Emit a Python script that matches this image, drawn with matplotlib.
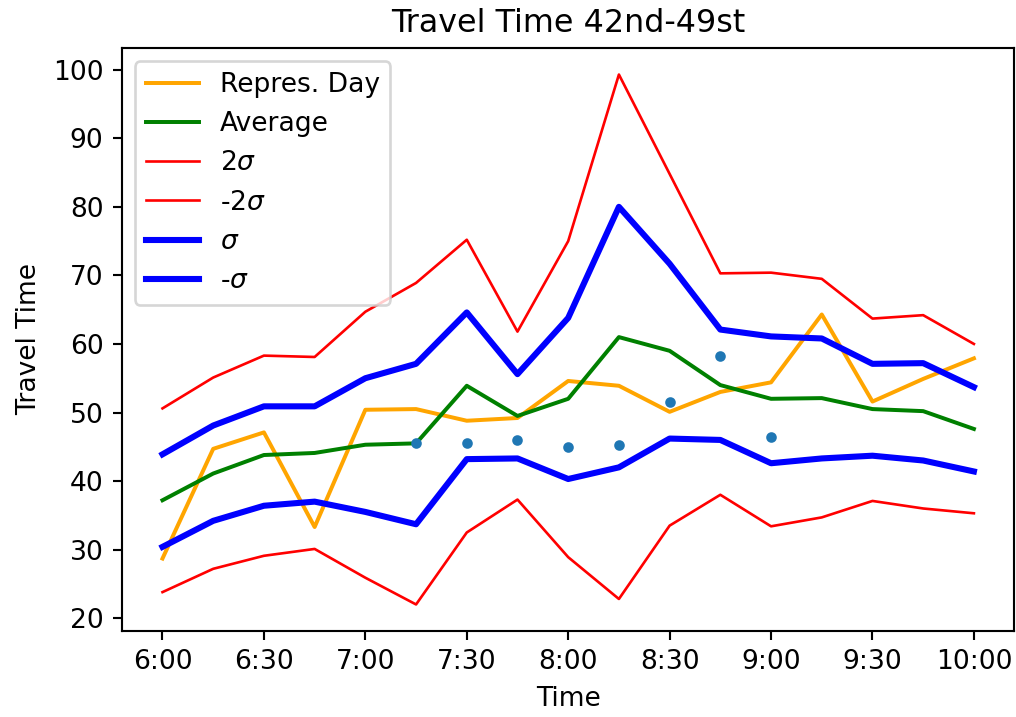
import numpy as np
import matplotlib.pyplot as plt

# 15-minute time slots from 6:00 to 10:00
times = ['6:00', '6:15', '6:30', '6:45', '7:00', '7:15', '7:30', '7:45', '8:00',
         '8:15', '8:30', '8:45', '9:00', '9:15', '9:30', '9:45', '10:00']

# travel times per slot
repres_day = [28.7, 44.7, 47.1, 33.3, 50.4, 50.5, 48.8, 49.2, 54.6,
              53.9, 50.1, 53.0, 54.4, 64.3, 51.6, 54.9, 57.9]
average = [37.2, 41.1, 43.8, 44.1, 45.3, 45.5, 53.9, 49.5, 52.0,
           61.0, 59.0, 54.0, 52.0, 52.1, 50.5, 50.2, 47.6]
plus_2sigma = [50.6, 55.1, 58.3, 58.1, 64.7, 68.9, 75.2, 61.8, 75.0,
               99.3, 84.8, 70.3, 70.4, 69.5, 63.7, 64.2, 60.0]
minus_2sigma = [23.8, 27.2, 29.1, 30.1, 25.9, 22.0, 32.5, 37.3, 28.9,
                22.8, 33.5, 38.0, 33.4, 34.7, 37.1, 36.0, 35.3]
plus_sigma = [43.9, 48.1, 50.9, 50.9, 55.0, 57.1, 64.6, 55.6, 63.8,
              80.0, 71.7, 62.1, 61.1, 60.8, 57.1, 57.2, 53.7]
minus_sigma = [30.4, 34.2, 36.4, 37.0, 35.5, 33.7, 43.2, 43.3, 40.3,
               42.0, 46.2, 46.0, 42.6, 43.3, 43.7, 43.0, 41.4]

# single-day observations
obs_times = ['7:15', '7:30', '7:45', '8:00', '8:15', '8:30', '8:45', '9:00']
obs_values = [45.6, 45.6, 46.0, 44.9, 45.2, 51.6, 58.2, 46.5]

x = np.arange(len(times))
obs_x = [times.index(t) for t in obs_times]

dpi = 190.5
fig = plt.figure(figsize=(1016 / dpi, 717 / dpi), dpi=dpi)
ax = fig.add_axes([0.120, 0.120, 0.8785, 0.813])

ax.plot(x, repres_day, color='orange', label='Repres. Day')
ax.plot(x, average, color='green', label='Average')
ax.plot(x, plus_2sigma, color='red', linewidth=1.0, label=r'2$\sigma$')
ax.plot(x, minus_2sigma, color='red', linewidth=1.0, label=r'-2$\sigma$')
ax.plot(x, plus_sigma, color='blue', linewidth=2.3, label=r'$\sigma$')
ax.plot(x, minus_sigma, color='blue', linewidth=2.3, label=r'-$\sigma$')
ax.plot(obs_x, obs_values, '.')

ax.set_xticks(x[::2])
ax.set_xticklabels(times[::2])
ax.set_xlabel('Time')
ax.set_ylabel('Travel Time')
ax.set_title('Travel Time 42nd-49st')
ax.legend(loc='upper left')

fig.savefig('out.png', dpi=dpi)
